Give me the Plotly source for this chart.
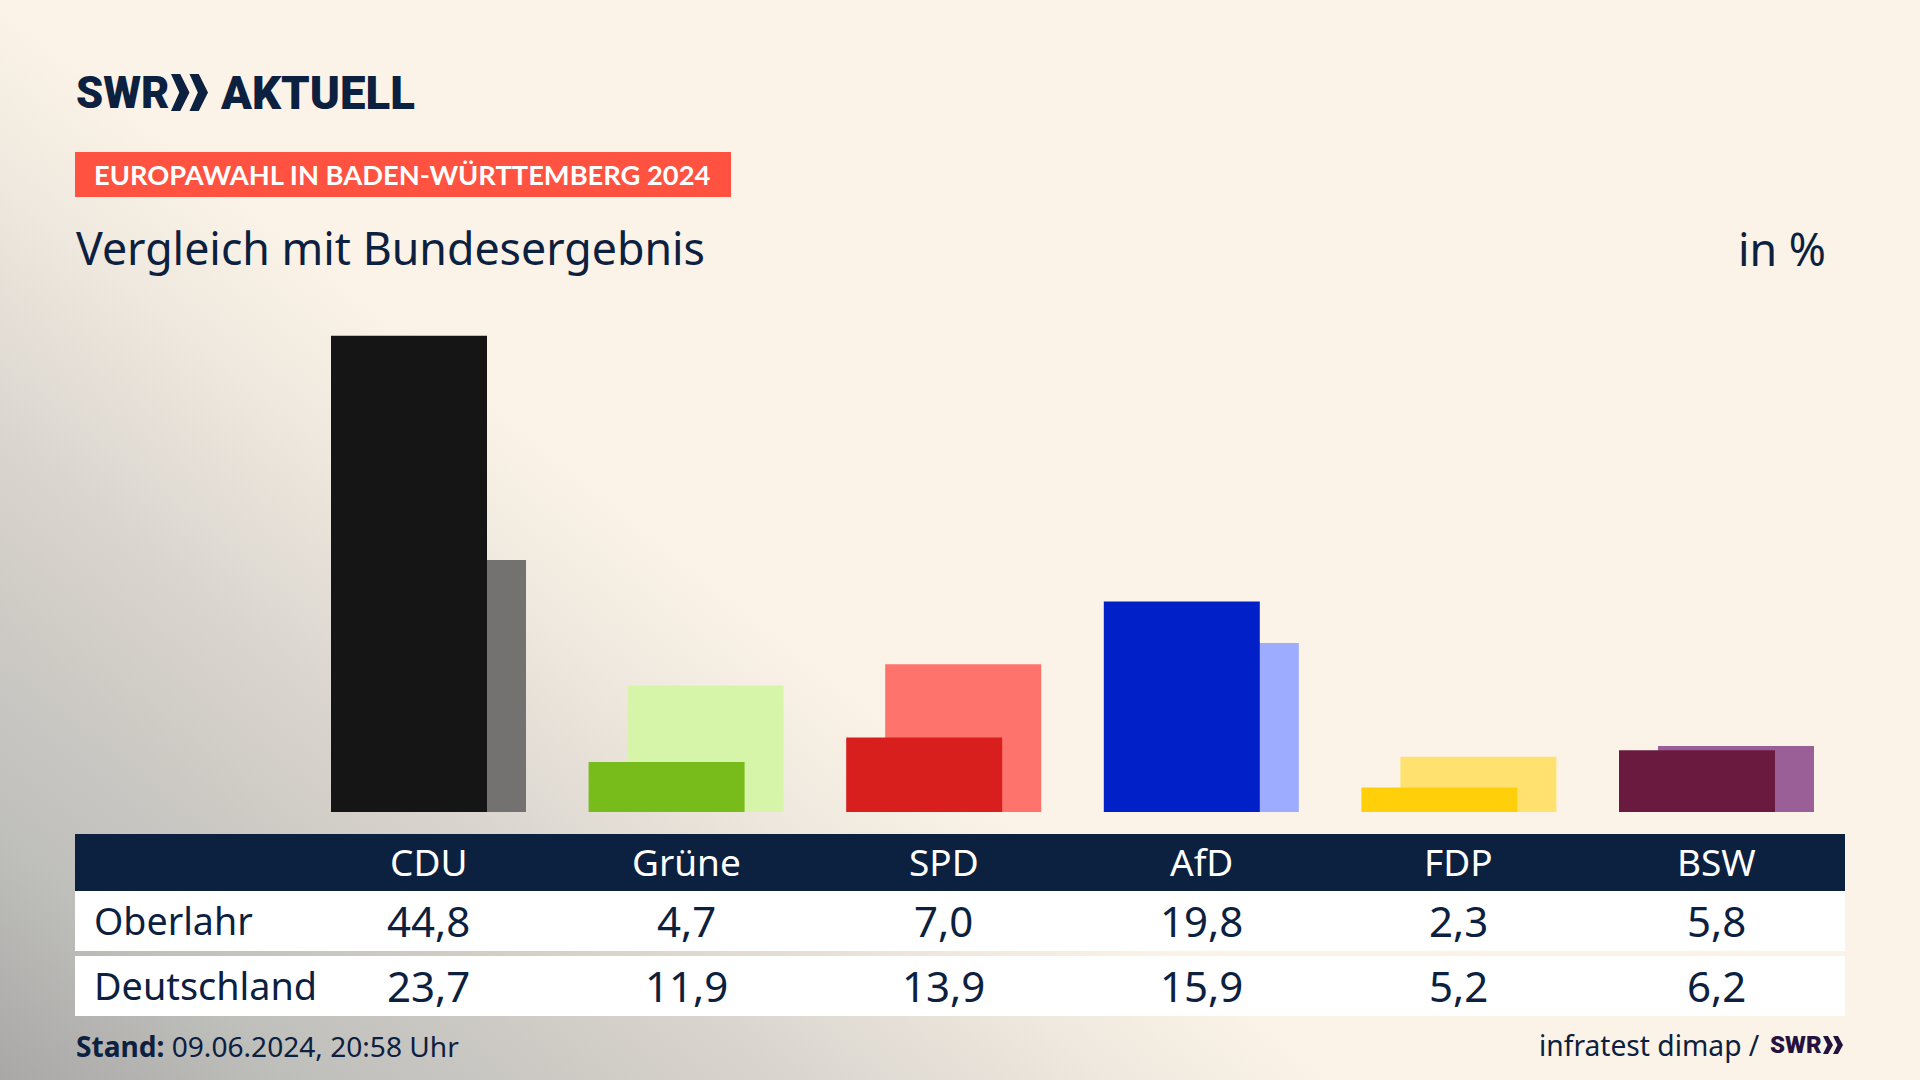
import base64
import plotly.graph_objects as go

parties = ["CDU", "Grüne", "SPD", "AfD", "FDP", "BSW"]
oberlahr = [44.8, 4.7, 7.0, 19.8, 2.3, 5.8]
deutschland = [23.7, 11.9, 13.9, 15.9, 5.2, 6.2]
colors_dark = ["#151515", "#78bc1b", "#d81f1e", "#0120c8", "#ffcf0a", "#6b1a3f"]
colors_light = ["#737271", "#d7f5a9", "#ff736d", "#9eacff", "#ffe170", "#9a5f97"]

W, H = 1920, 1080
NAVY = "#0c2040"
FONT = "Noto Sans"
LOGO = "Roboto"
STEP = 257.6  # px between two parties
BAR = 156 / STEP
SHIFT = 39 / STEP


def px(x):
    return x / W


def py(y):
    return 1 - y / H


# cream background, grey diagonal fade towards the lower left corner
stops = [(0, "#fbf3e7"), (144, "#efe8de"), (233, "#e5dfd7"), (336, "#dad6cf"),
         (439, "#d1cdc7"), (646, "#bfbfbc"), (840, "#a9a8a6")]
stop_tags = "".join(f"<stop offset='{d / 840:.3f}' stop-color='{c}'/>" for d, c in stops)
svg = f"""<svg xmlns='http://www.w3.org/2000/svg' width='{W}' height='{H}'>
<defs><linearGradient id='g' gradientUnits='userSpaceOnUse' x1='527' y1='426.5' x2='0' y2='{H}'>
{stop_tags}
</linearGradient></defs>
<rect width='{W}' height='{H}' fill='url(#g)'/>
</svg>"""
bg = "data:image/svg+xml;base64," + base64.b64encode(svg.encode()).decode()

fig = go.Figure()
fig.add_bar(x=parties, y=deutschland, marker_color=colors_light, marker_line_width=0,
            width=BAR, offset=-BAR / 2 + SHIFT / 2, name="Deutschland")
fig.add_bar(x=parties, y=oberlahr, marker_color=colors_dark, marker_line_width=0,
            width=BAR, offset=-BAR / 2 - SHIFT / 2, name="Oberlahr")


def rect(x0, y0, x1, y1, color):
    return dict(type="rect", xref="paper", yref="paper", x0=px(x0), x1=px(x1),
                y0=py(y0), y1=py(y1), fillcolor=color, line_width=0, layer="below")


def chevrons(x, top, bottom, w, color):
    # two arrow heads of the SWR logo
    mid = (top + bottom) / 2
    out = []
    for dx in (0, w):
        p = [(x + dx, top), (x + dx + w * 0.5, top), (x + dx + w, mid),
             (x + dx + w * 0.5, bottom), (x + dx, bottom), (x + dx + w * 0.45, mid)]
        path = "M " + " L ".join(f"{px(a):.5f} {py(b):.5f}" for a, b in p) + " Z"
        out.append(dict(type="path", xref="paper", yref="paper", path=path,
                        fillcolor=color, line_width=0))
    return out


shapes = [
    rect(75, 152, 731, 197, "#ff5240"),
    rect(75, 834, 1845, 891, NAVY),
    rect(75, 891, 1845, 951, "#ffffff"),
    rect(75, 956, 1845, 1016, "#ffffff"),
]
shapes += chevrons(171, 74, 111, 18.5, NAVY)
shapes += chevrons(1823, 1036, 1054, 10, "#24123f")


def label(text, x, y, size, anchor="left", color=NAVY, weight=400, xref="paper", family=FONT):
    return dict(text=text, x=px(x) if xref == "paper" else x, y=py(y), xref=xref, yref="paper",
                xanchor=anchor, yanchor="middle", showarrow=False, borderpad=0,
                font=dict(family=family, size=size, color=color, weight=weight))


def fmt(v):
    return f"{v:.1f}".replace(".", ",")


annotations = [
    label("SWR", 75, 93, 43.5, weight=900, family=LOGO),
    label("AKTUELL", 219, 93, 45.5, weight=900, family=LOGO),
    label("EUROPAWAHL IN BADEN-WÜRTTEMBERG 2024", 93, 175, 27.3, color="#ffffff", weight=700, family="Lato"),
    label("Vergleich mit Bundesergebnis", 75, 247, 44.7),
    label("in %", 1827, 248, 44.7, anchor="right"),
    label("Oberlahr", 93, 920, 37.6),
    label("Deutschland", 93, 985, 37.8),
    label("<b>Stand:</b> 09.06.2024, 20:58 Uhr", 75, 1046, 28.1),
    label("infratest dimap /", 1761, 1045, 28.2, anchor="right"),
    label("SWR", 1769, 1045, 24, color="#24123f", weight=900, family=LOGO),
]
for i, p in enumerate(parties):
    annotations.append(label(p, i, 861, 37, anchor="center", color="#ffffff", xref="x"))
    annotations.append(label(fmt(oberlahr[i]), i, 920, 42, anchor="center", xref="x"))
    annotations.append(label(fmt(deutschland[i]), i, 985, 42, anchor="center", xref="x"))

fig.update_layout(
    width=W, height=H, margin=dict(l=0, r=0, t=0, b=0),
    barmode="overlay", showlegend=False,
    paper_bgcolor="#fbf3e7", plot_bgcolor="rgba(0,0,0,0)",
    xaxis=dict(type="category", categoryorder="array", categoryarray=parties,
               range=[-428.5 / STEP, (W - 428.5) / STEP], visible=False),
    yaxis=dict(domain=[(H - 812) / H, 1], range=[0, 812 / 10.63], visible=False),
    images=[dict(source=bg, xref="paper", yref="paper", x=0, y=1, sizex=1, sizey=1,
                 sizing="stretch", xanchor="left", yanchor="top", layer="below")],
    shapes=shapes, annotations=annotations,
)

fig.write_html("out.html", config={"displayModeBar": False},
               post_script="document.body.style.margin='0';")
